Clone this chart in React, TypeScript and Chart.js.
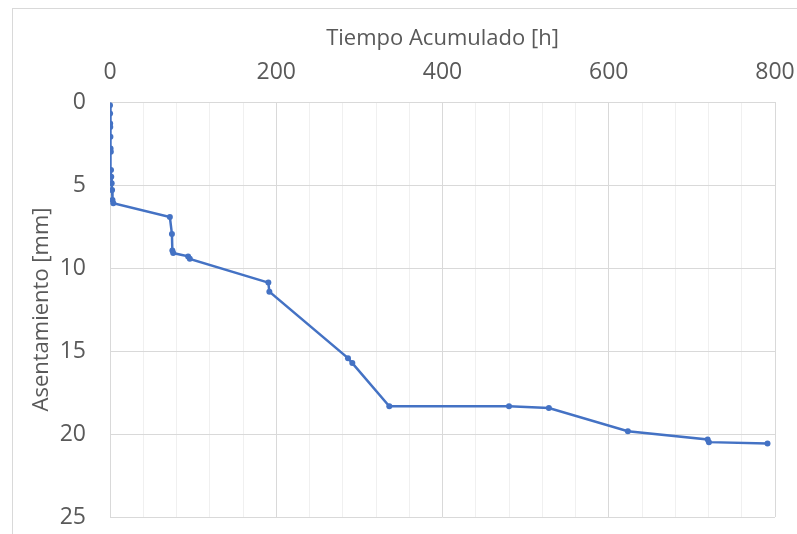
import React, { useEffect, useRef } from "react";
import { Chart, registerables } from "chart.js";

Chart.register(...registerables);

const timeHours = [
  0, 0.1, 0.2, 0.3, 0.5, 0.7, 1, 1.2, 1.5, 2, 2.5, 3, 4,
  72, 74.5, 75, 76, 94, 96,
  190.5, 191.7,
  286.3, 291.5,
  336, 480, 528, 623, 719, 720.5, 791,
];
const settlementMm = [
  0.2, 0.7, 1.3, 1.5, 2.1, 2.8, 3.0, 4.1, 4.5, 4.9, 5.3, 5.9, 6.1,
  6.93, 7.95, 8.95, 9.1, 9.3, 9.45,
  10.88, 11.43,
  15.43, 15.73,
  18.33, 18.33, 18.43, 19.83, 20.33, 20.49, 20.57,
];
const xTitle = "Tiempo Acumulado [h]";
const yTitle = "Asentamiento [mm]";

const FONT = "'Open Sans', sans-serif";
const TEXT = "#595959";

export default function App() {
  const ref = useRef<HTMLCanvasElement | null>(null);
  useEffect(() => {
    if (!ref.current) return;
    const data = timeHours.map((x, i) => ({ x, y: settlementMm[i] }));
    const chart = new Chart(ref.current, {
      type: "scatter",
      data: {
        datasets: [
          {
            data,
            showLine: true,
            borderColor: "#4472C4",
            backgroundColor: "#4472C4",
            borderWidth: 2.5,
            pointRadius: 3,
            pointBorderWidth: 0,
          },
        ],
      },
      options: {
        animation: false,
        responsive: false,
        layout: { padding: { left: 0, right: 22, top: 0, bottom: 17 } },
        plugins: { legend: { display: false }, tooltip: { enabled: false } },
        scales: {
          x: {
            type: "linear",
            position: "top",
            min: 0,
            max: 800,
            afterFit: (s: any) => {
              s.height = 102;
              s.paddingLeft = 0;
              s.paddingRight = 0;
            },
            border: { display: false },
            grid: {
              drawTicks: false,
              color: (ctx: any) =>
                ctx.tick && ctx.tick.value % 200 === 0 ? "#d9d9d9" : "#f0f0f0",
              lineWidth: 1,
            },
            ticks: {
              stepSize: 40,
              autoSkip: false,
              maxRotation: 0,
              padding: 16,
              color: TEXT,
              font: { family: FONT, size: 23 },
              callback: (v: any) => (Number(v) % 200 === 0 ? String(v) : ""),
            },
            title: {
              display: true,
              text: xTitle,
              color: TEXT,
              font: { family: FONT, size: 22 },
              padding: { top: 26, bottom: 0 },
            },
          },
          y: {
            type: "linear",
            reverse: true,
            min: 0,
            max: 25,
            afterFit: (s: any) => {
              s.width = 110;
              s.paddingTop = 0;
              s.paddingBottom = 0;
            },
            border: { display: false },
            grid: { drawTicks: false, color: "#d9d9d9", lineWidth: 1 },
            ticks: {
              stepSize: 5,
              padding: 24,
              color: TEXT,
              font: { family: FONT, size: 23 },
            },
            title: {
              display: true,
              text: yTitle,
              color: TEXT,
              font: { family: FONT, size: 22 },
              padding: { top: 29, bottom: 0 },
            },
          },
        },
      },
    });
    return () => chart.destroy();
  }, []);

  return (
    <div style={{ position: "absolute", left: 0, top: 0, width: 797, height: 534, overflow: "hidden", background: "#fff" }}>
      <div
        style={{
          position: "absolute",
          left: 12,
          top: 8,
          width: 820,
          height: 560,
          border: "1px solid #d9d9d9",
          boxSizing: "border-box",
        }}
      />
      <canvas ref={ref} width={797} height={534} style={{ position: "absolute", left: 0, top: 0 }} />
    </div>
  );
}
